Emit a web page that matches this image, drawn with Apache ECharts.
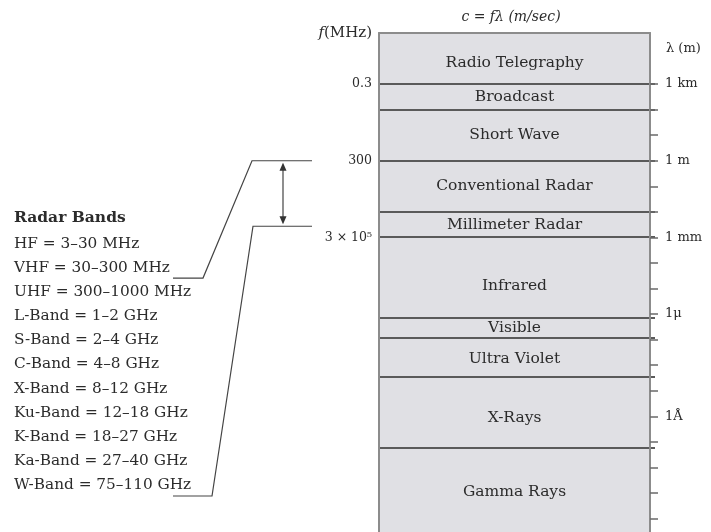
<!DOCTYPE html>
<html>
<head>
<meta charset="utf-8">
<script src="https://cdn.jsdelivr.net/npm/echarts@6/dist/echarts.min.js"></script>
<style>
  html, body { margin: 0; padding: 0; background: #ffffff; }
  #chart { width: 711px; height: 532px; }
</style>
</head>
<body>
<div id="chart"></div>
<script>
// Electromagnetic spectrum bands; bounds are log10 of wavelength in metres
const bandNames = ['Radio Telegraphy', 'Broadcast', 'Short Wave', 'Conventional Radar', 'Millimeter Radar',
  'Infrared', 'Visible', 'Ultra Violet', 'X-Rays', 'Gamma Rays'];
const bandTop = [5, 3, 2, 0, -2, -3, -6.15, -6.92, -8.47, -11.25];
const bandBottom = [3, 2, 0, -2, -3, -6.15, -6.92, -8.47, -11.25, -15];

// Wavelength scale on the right (log10 metres)
const wavelengthTicks = [3, 2, 1, 0, -1, -2, -3, -4, -5, -6, -7, -8, -9, -10, -11, -12, -13, -14];
const wavelengthLabelValues = [3, 0, -3, -6, -10];
const wavelengthLabelTexts = ['1 km', '1 m', '1 mm', '1μ', '1Å'];

// Frequency scale on the left, placed at the matching wavelengths
const frequencyLabelValues = [3, 0, -3];
const frequencyLabelTexts = ['0.3', '300', '3 × 10⁵'];

// Radar band designations
const radarBandNames = ['HF', 'VHF', 'UHF', 'L-Band', 'S-Band', 'C-Band', 'X-Band', 'Ku-Band', 'K-Band', 'Ka-Band', 'W-Band'];
const radarBandRanges = ['3–30 MHz', '30–300 MHz', '300–1000 MHz', '1–2 GHz', '2–4 GHz', '4–8 GHz', '8–12 GHz',
  '12–18 GHz', '18–27 GHz', '27–40 GHz', '75–110 GHz'];
// Radar span bracketed beside the spectrum, in MHz
const radarSpanMHz = [300, 110000];

const SERIF = '"DejaVu Serif", "Liberation Serif", serif';
const TEXT = '#2b2b2b';
const RULE = '#5a5a5a';
const FRAME = '#8c8c8c';
const FILL = '#e0e0e4';

// small vertical nudges for band captions (px)
const captionNudge = { 'Radio Telegraphy': 4, 'Infrared': 8, 'Ultra Violet': 2, 'X-Rays': 5, 'Gamma Rays': -4 };

const mhzToLog = f => Math.log10(300 / f);

const chart = echarts.init(document.getElementById('chart'), null, { renderer: 'canvas' });

const bandData = bandNames.map((n, i) => [bandTop[i], bandBottom[i], n]);

chart.setOption({
  animation: false,
  backgroundColor: '#ffffff',
  grid: { left: 379, top: 33, width: 271, height: 511, outerBoundsMode: 'none' },
  xAxis: {
    type: 'value', min: 0, max: 1, position: 'top', z: 5,
    axisLine: { show: true, onZero: false, lineStyle: { color: FRAME, width: 2 } },
    axisTick: { show: false }, axisLabel: { show: false }, splitLine: { show: false }
  },
  yAxis: [
    {
      type: 'value', min: -15, max: 5, position: 'left', z: 5,
      axisLine: { show: true, onZero: false, lineStyle: { color: FRAME, width: 2 } },
      axisTick: { show: false },
      splitLine: { show: false },
      axisLabel: {
        customValues: frequencyLabelValues,
        margin: 7,
        color: TEXT, fontFamily: SERIF, fontSize: 12.5,
        formatter: v => frequencyLabelTexts[frequencyLabelValues.indexOf(v)] || ''
      }
    },
    {
      type: 'value', min: -15, max: 5, position: 'right', z: 5,
      axisLine: { show: true, onZero: false, lineStyle: { color: FRAME, width: 2 } },
      axisTick: { show: true, customValues: wavelengthTicks, length: 8, lineStyle: { color: '#6a6a6a', width: 1.5 } },
      splitLine: { show: false },
      axisLabel: {
        customValues: wavelengthLabelValues,
        margin: 15,
        color: TEXT, fontFamily: SERIF, fontSize: 13,
        formatter: v => wavelengthLabelTexts[wavelengthLabelValues.indexOf(v)] || ''
      }
    }
  ],
  series: [{
    type: 'custom',
    yAxisIndex: 0,
    data: bandData,
    renderItem(params, api) {
      const i = params.dataIndex;
      const p0 = api.coord([0, api.value(0)]);
      const p1 = api.coord([1, api.value(1)]);
      const x = p0[0], y0 = p0[1], w = p1[0] - p0[0], y1 = p1[1];
      const name = bandNames[i];
      const children = [
        { type: 'rect', z2: 1, shape: { x: x, y: y0, width: w, height: y1 - y0 }, style: { fill: FILL } },
        {
          type: 'text', z2: 20, x: x + w / 2, y: (y0 + y1) / 2 + (captionNudge[name] || 0),
          style: { text: name, align: 'center', verticalAlign: 'middle', font: '15.5px ' + SERIF, fill: TEXT }
        }
      ];
      if (i < bandNames.length - 1) {
        // boundary rule, running just past the right edge, kept above the neighbouring fill
        children.push({
          type: 'rect', z2: 10, shape: { x: x, y: Math.round(y1) - 1, width: w + 5, height: 2 },
          style: { fill: RULE }
        });
      }
      return { type: 'group', children: children };
    }
  }]
});

// Annotations: axis captions, radar band list and the bracket tying it to the spectrum
const yTop = chart.convertToPixel({ yAxisIndex: 0 }, mhzToLog(radarSpanMHz[0]));
const yBot = chart.convertToPixel({ yAxisIndex: 0 }, mhzToLog(radarSpanMHz[1]));

const rowY0 = 244, rowStep = 24.1;
const graphics = [
  { type: 'text', x: 511, y: 17, style: { text: 'c = fλ (m/sec)', align: 'center', verticalAlign: 'middle', font: 'italic 14px ' + SERIF, fill: TEXT } },
  {
    type: 'text', x: 372, y: 33,
    style: {
      text: '{i|f}(MHz)', align: 'right', verticalAlign: 'middle', font: '15px ' + SERIF, fill: TEXT,
      rich: { i: { fontStyle: 'italic', fontFamily: SERIF, fontSize: 15, fill: TEXT } }
    }
  },
  { type: 'text', x: 666, y: 49, style: { text: 'λ (m)', align: 'left', verticalAlign: 'middle', font: '13px ' + SERIF, fill: TEXT } },
  { type: 'text', x: 14, y: 218, style: { text: 'Radar Bands', align: 'left', verticalAlign: 'middle', font: 'bold 15.5px ' + SERIF, fill: TEXT } }
];
radarBandNames.forEach((n, i) => {
  graphics.push({
    type: 'text', x: 14, y: rowY0 + rowStep * i,
    style: { text: n + ' = ' + radarBandRanges[i], align: 'left', verticalAlign: 'middle', font: '15.3px ' + SERIF, fill: TEXT }
  });
});

const vhfUnder = rowY0 + rowStep * 1 + 10;
const wUnder = rowY0 + rowStep * 10 + 11;
const lineStyle = { stroke: '#444444', lineWidth: 1.2, fill: null };
graphics.push(
  { type: 'polyline', shape: { points: [[312, yTop], [252, yTop], [203, vhfUnder], [173, vhfUnder]] }, style: lineStyle },
  { type: 'polyline', shape: { points: [[312, yBot], [253, yBot], [212, wUnder], [173, wUnder]] }, style: lineStyle },
  { type: 'line', shape: { x1: 283, y1: yTop + 4, x2: 283, y2: yBot - 4 }, style: { stroke: '#444444', lineWidth: 1.2 } },
  { type: 'polygon', shape: { points: [[283, yTop + 2], [279.5, yTop + 10], [286.5, yTop + 10]] }, style: { fill: '#333333' } },
  { type: 'polygon', shape: { points: [[283, yBot - 2], [279.5, yBot - 10], [286.5, yBot - 10]] }, style: { fill: '#333333' } }
);

chart.setOption({ graphic: graphics });
</script>
</body>
</html>
